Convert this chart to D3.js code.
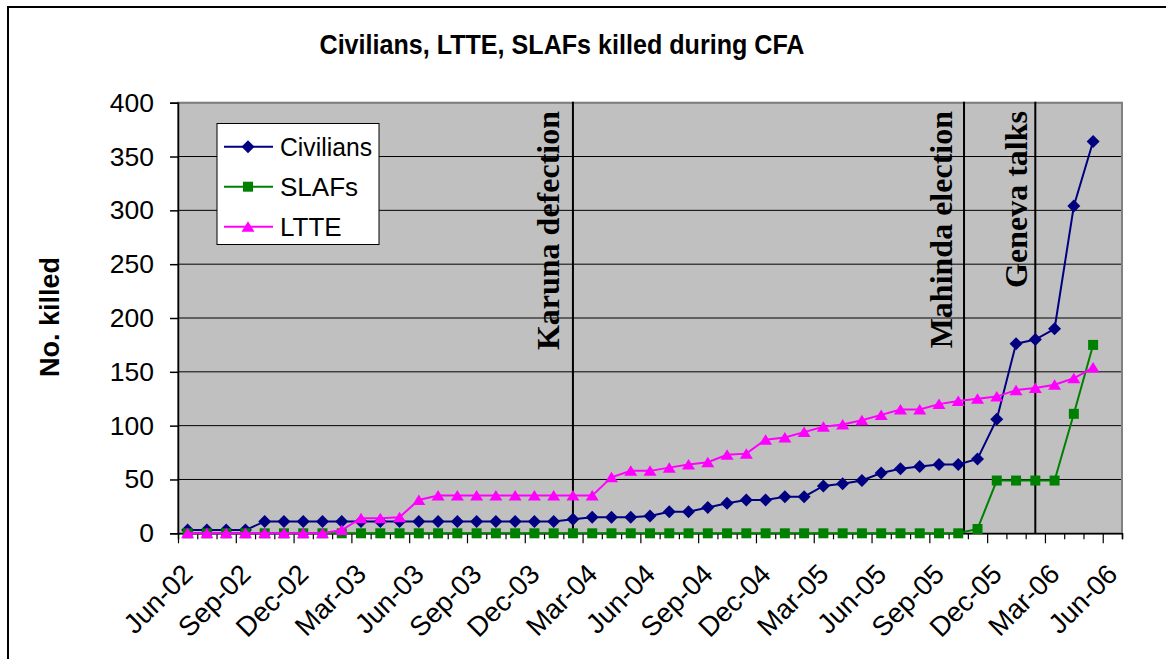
<!DOCTYPE html>
<html>
<head>
<meta charset="utf-8">
<script src="https://cdn.jsdelivr.net/npm/d3@7"></script>
<style>
  html, body { margin: 0; padding: 0; background: #fff; }
  svg { display: block; }
</style>
</head>
<body>
<svg id="chart" width="1166" height="659"></svg>
<script>
// ---------- DATA ----------
const categories = ["Jun-02","Jul-02","Aug-02","Sep-02","Oct-02","Nov-02","Dec-02",
  "Jan-03","Feb-03","Mar-03","Apr-03","May-03","Jun-03","Jul-03","Aug-03","Sep-03","Oct-03","Nov-03","Dec-03",
  "Jan-04","Feb-04","Mar-04","Apr-04","May-04","Jun-04","Jul-04","Aug-04","Sep-04","Oct-04","Nov-04","Dec-04",
  "Jan-05","Feb-05","Mar-05","Apr-05","May-05","Jun-05","Jul-05","Aug-05","Sep-05","Oct-05","Nov-05","Dec-05",
  "Jan-06","Feb-06","Mar-06","Apr-06","May-06","Jun-06"];

const tickLabels = ["Jun-02","Sep-02","Dec-02","Mar-03","Jun-03","Sep-03","Dec-03","Mar-04","Jun-04",
  "Sep-04","Dec-04","Mar-05","Jun-05","Sep-05","Dec-05","Mar-06","Jun-06"];

const civilians = [3,3,3,3,11,11,11,11,11,11,11,11,11,11,11,11,11,11,11,11,
  13,15,15,15,16,20,20,24,28,31,31,34,34,44,46,49,56,60,62,64,64,69,106,176,180,190,304,364];

const slafs = [0,0,0,0,0,0,0,0,0,0,0,0,0,0,0,0,0,0,0,0,
  0,0,0,0,0,0,0,0,0,0,0,0,0,0,0,0,0,0,0,0,0,4,49,49,49,49,111,175];

const ltte = [0,0,0,0,0,0,0,0,3,14,14,15,31,35,35,35,35,35,35,35,
  35,35,52,58,58,61,64,66,73,74,87,89,94,99,101,105,110,115,115,120,123,125,127,133,135,138,144,154];

const yTicks = [0,50,100,150,200,250,300,350,400];

const eventNames = ["Karuna defection","Mahinda election","Geneva talks"];
const eventPos = [20.5, 40.8, 44.5];   // position on the category axis

const title = "Civilians, LTTE, SLAFs killed during CFA";
const yTitle = "No. killed";

// ---------- LAYOUT ----------
const svg = d3.select("#chart");
const P = { left: 178, right: 1122, top: 102.7, bottom: 533.3 };
const SANS = "Liberation Sans, Arial, sans-serif";

const xBand = d3.scaleBand().domain(categories).range([P.left, P.right]).padding(0);
const xLin = d3.scaleLinear().domain([0, categories.length]).range([P.left, P.right]);
const y = d3.scaleLinear().domain([0, 400]).range([P.bottom, P.top]);
const cx = i => xBand(categories[i]) + xBand.bandwidth() / 2;

// outer border
svg.append("rect").attr("x", 8).attr("y", 7).attr("width", 1180).attr("height", 680)
  .attr("fill", "#fff").attr("stroke", "#000").attr("stroke-width", 2);

// title
svg.append("text").attr("x", 562).attr("y", 54).attr("text-anchor", "middle")
  .attr("font-family", SANS).attr("font-weight", "bold")
  .attr("font-size", 27).attr("textLength", 485).attr("lengthAdjust", "spacingAndGlyphs")
  .text(title);

// plot area
svg.append("rect").attr("x", P.left).attr("y", P.top)
  .attr("width", P.right - P.left).attr("height", P.bottom - P.top)
  .attr("fill", "#c0c0c0");

// gridlines
svg.append("g").selectAll("line").data(yTicks.filter(d => d > 0)).join("line")
  .attr("x1", P.left).attr("x2", P.right)
  .attr("y1", d => y(d)).attr("y2", d => y(d))
  .attr("stroke", "#000").attr("stroke-width", 1);

// plot border
svg.append("rect").attr("x", P.left).attr("y", P.top)
  .attr("width", P.right - P.left).attr("height", P.bottom - P.top)
  .attr("fill", "none").attr("stroke", "#808080").attr("stroke-width", 2);

// y axis
const yAxis = svg.append("g").attr("transform", `translate(${P.left},0)`)
  .call(d3.axisLeft(y).tickValues(yTicks).tickSize(8).tickPadding(16));
yAxis.select(".domain").attr("stroke", "#000").attr("stroke-width", 1.5);
yAxis.selectAll(".tick line").attr("stroke", "#000").attr("stroke-width", 1.5);
yAxis.selectAll(".tick text").attr("font-family", SANS)
  .attr("font-size", 26.5).attr("fill", "#000");

// x axis (ticks at category boundaries)
const xAxis = svg.append("g").attr("transform", `translate(0,${P.bottom})`)
  .call(d3.axisBottom(xLin).tickValues(d3.range(0, categories.length + 1)).tickSize(6).tickFormat(""));
xAxis.select(".domain").attr("stroke", "#000").attr("stroke-width", 1.5);
xAxis.selectAll(".tick line").attr("stroke", "#000").attr("stroke-width", 1.2)
  .attr("y2", d => d % 3 === 0 ? 10 : 6);

// x labels
svg.append("g").selectAll("text").data(tickLabels).join("text")
  .attr("transform", d => `translate(${cx(categories.indexOf(d))},${569}) rotate(-45)`)
  .attr("text-anchor", "end").attr("dy", "0.35em")
  .attr("font-family", SANS).attr("font-size", 27.5)
  .text(d => d);

// y title
svg.append("text").attr("transform", `translate(59,317) rotate(-90)`)
  .attr("text-anchor", "middle")
  .attr("font-family", SANS).attr("font-weight", "bold")
  .attr("font-size", 27).text(yTitle);

// event lines
svg.append("g").selectAll("line").data(eventPos).join("line")
  .attr("x1", d => xLin(d)).attr("x2", d => xLin(d))
  .attr("y1", P.top - 1).attr("y2", P.bottom)
  .attr("stroke", "#000").attr("stroke-width", 2);

const labelShift = [-14, -12, -8];
svg.append("g").selectAll("text").data(eventNames).join("text")
  .attr("transform", (d, i) => `translate(${xLin(eventPos[i]) + labelShift[i]},${111}) rotate(-90)`)
  .attr("text-anchor", "end")
  .attr("font-family", "Liberation Serif, Times New Roman, serif").attr("font-weight", "bold")
  .attr("font-size", 32).text(d => d);

// series
const diamond = "M0,-6.5L6.5,0L0,6.5L-6.5,0Z";
const square = "M-5,-5H5V5H-5Z";
const triangle = "M0,-5.5L6.5,5L-6.5,5Z";

const series = [
  { name: "Civilians", values: civilians, color: "#000080", marker: diamond },
  { name: "SLAFs", values: slafs, color: "#008000", marker: square },
  { name: "LTTE", values: ltte, color: "#ff00ff", marker: triangle }
];

const line = d3.line().x((d, i) => cx(i)).y(d => y(d));

series.forEach(s => {
  const g = svg.append("g");
  g.append("path").datum(s.values).attr("d", line)
    .attr("fill", "none").attr("stroke", s.color).attr("stroke-width", 2);
  g.selectAll("path.m").data(s.values).join("path").attr("class", "m")
    .attr("transform", (d, i) => `translate(${cx(i)},${y(d)})`)
    .attr("d", s.marker).attr("fill", s.color);
});

// legend
const lg = svg.append("g");
lg.append("rect").attr("x", 217).attr("y", 123.5).attr("width", 162).attr("height", 121)
  .attr("fill", "#fff").attr("stroke", "#000").attr("stroke-width", 1);
series.forEach((s, i) => {
  const yy = 146.7 + i * 40;
  lg.append("line").attr("x1", 224).attr("x2", 273).attr("y1", yy).attr("y2", yy)
    .attr("stroke", s.color).attr("stroke-width", 2);
  lg.append("path").attr("transform", `translate(248,${yy})`).attr("d", s.marker).attr("fill", s.color);
  lg.append("text").attr("x", 280).attr("y", yy + 9.5)
    .attr("font-family", SANS).attr("font-size", 26)
    .attr("textLength", 92).attr("lengthAdjust", "spacingAndGlyphs")
    .text(s.name)
    .attr("textLength", s.name === "Civilians" ? 92 : null);
});
</script>
</body>
</html>
